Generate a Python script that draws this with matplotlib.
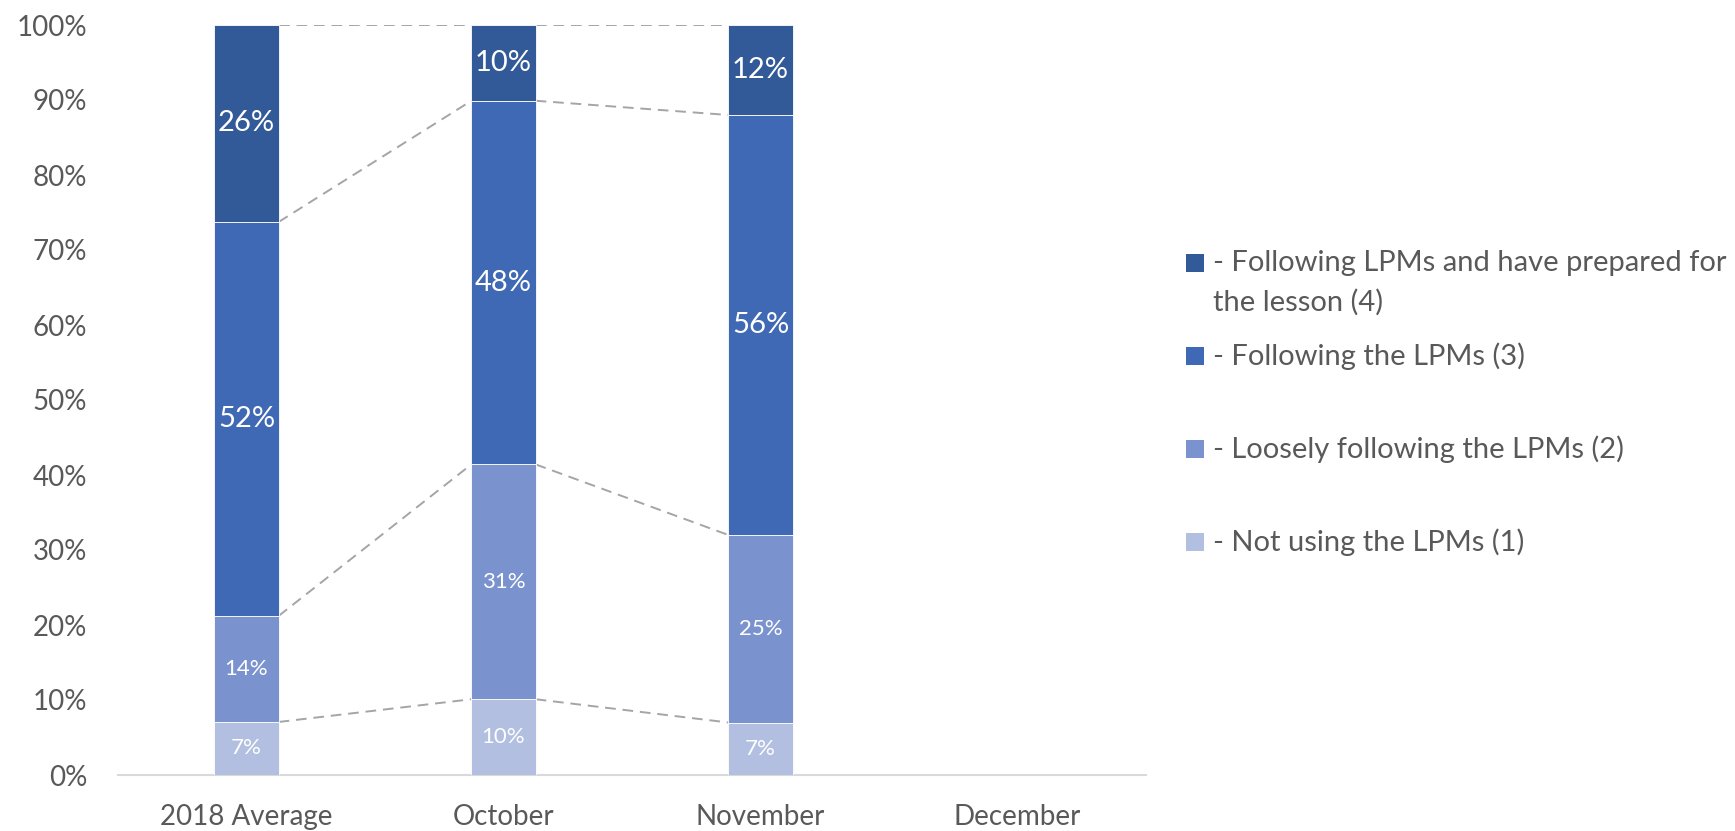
import matplotlib
matplotlib.use("Agg")
import matplotlib.pyplot as plt
from matplotlib.patches import Rectangle
import numpy as np

plt.rcParams['font.family'] = ['Lato', 'DejaVu Sans']

categories = ["2018 Average", "October", "November", "December"]
series_names = ["- Not using the LPMs (1)",
                "- Loosely following the LPMs (2)",
                "- Following the LPMs (3)",
                "- Following LPMs and have prepared for\nthe lesson (4)"]
not_using = [7, 10, 7, 0]
loosely = [14, 31, 25, 0]
following = [52, 48, 56, 0]
prepared = [26, 10, 12, 0]
colors = ["#B3BFE0", "#7A93CE", "#3F69B5", "#335A98"]

raw = np.array([not_using, loosely, following, prepared], dtype=float)
totals = raw.sum(axis=0)
share = np.divide(raw, totals, out=np.zeros_like(raw), where=totals > 0) * 100

W, H = 1735, 831
fig = plt.figure(figsize=(W / 100, H / 100), dpi=100)
ax = fig.add_axes([118 / W, (H - 775) / H, (1146 - 118) / W, 750 / H])

x = np.arange(len(categories))
bw = 0.25
bottom = np.zeros(len(categories))
label_sizes = [16, 16, 21, 21]
for k in range(4):
    ax.bar(x, share[k], bw, bottom=bottom, color=colors[k],
           edgecolor="white", linewidth=0.6, zorder=3)
    for i in range(len(categories)):
        if raw[k, i] > 0:
            ax.text(x[i], bottom[i] + share[k, i] / 2, f"{int(raw[k, i])}%",
                    ha="center", va="center", color="white",
                    fontsize=label_sizes[k], zorder=4)
    bottom = bottom + share[k]
    # series lines between consecutive bars
    for i in range(len(categories) - 1):
        if totals[i] > 0 and totals[i + 1] > 0:
            ax.plot([x[i] + bw / 2, x[i + 1] - bw / 2], [bottom[i], bottom[i + 1]],
                    color="#A5A5A5", linewidth=1.4, linestyle=(0, (5.5, 3.5)),
                    zorder=2)

ax.set_xlim(-0.5, len(categories) - 0.5)
ax.set_ylim(0, 100)
ax.set_yticks(np.arange(0, 101, 10))
ax.set_yticklabels([f"{v}%" for v in range(0, 101, 10)])
ax.set_xticks(x)
ax.set_xticklabels(categories)
ax.tick_params(axis="y", length=0, pad=22, labelsize=20, labelcolor="#595959")
ax.tick_params(axis="x", length=0, pad=21, labelsize=20, labelcolor="#595959")
for s in ["top", "right", "left"]:
    ax.spines[s].set_visible(False)
ax.spines["bottom"].set_color("#D9D9D9")
ax.spines["bottom"].set_linewidth(1.5)

# legend (top series first, as in the reference)
leg_y = [263, 356, 449, 542]
for j, k in enumerate([3, 2, 1, 0]):
    yc = leg_y[j]
    fig.patches.append(Rectangle((1186 / W, (H - yc - 9) / H), 18 / W, 18 / H,
                                 transform=fig.transFigure, facecolor=colors[k],
                                 edgecolor="none"))
    for li, line in enumerate(series_names[k].split("\n")):
        fig.text(1213 / W, (H - yc - li * 39) / H, line, ha="left", va="center",
                 fontsize=21, color="#595959")

fig.savefig("out.png", dpi=100)
